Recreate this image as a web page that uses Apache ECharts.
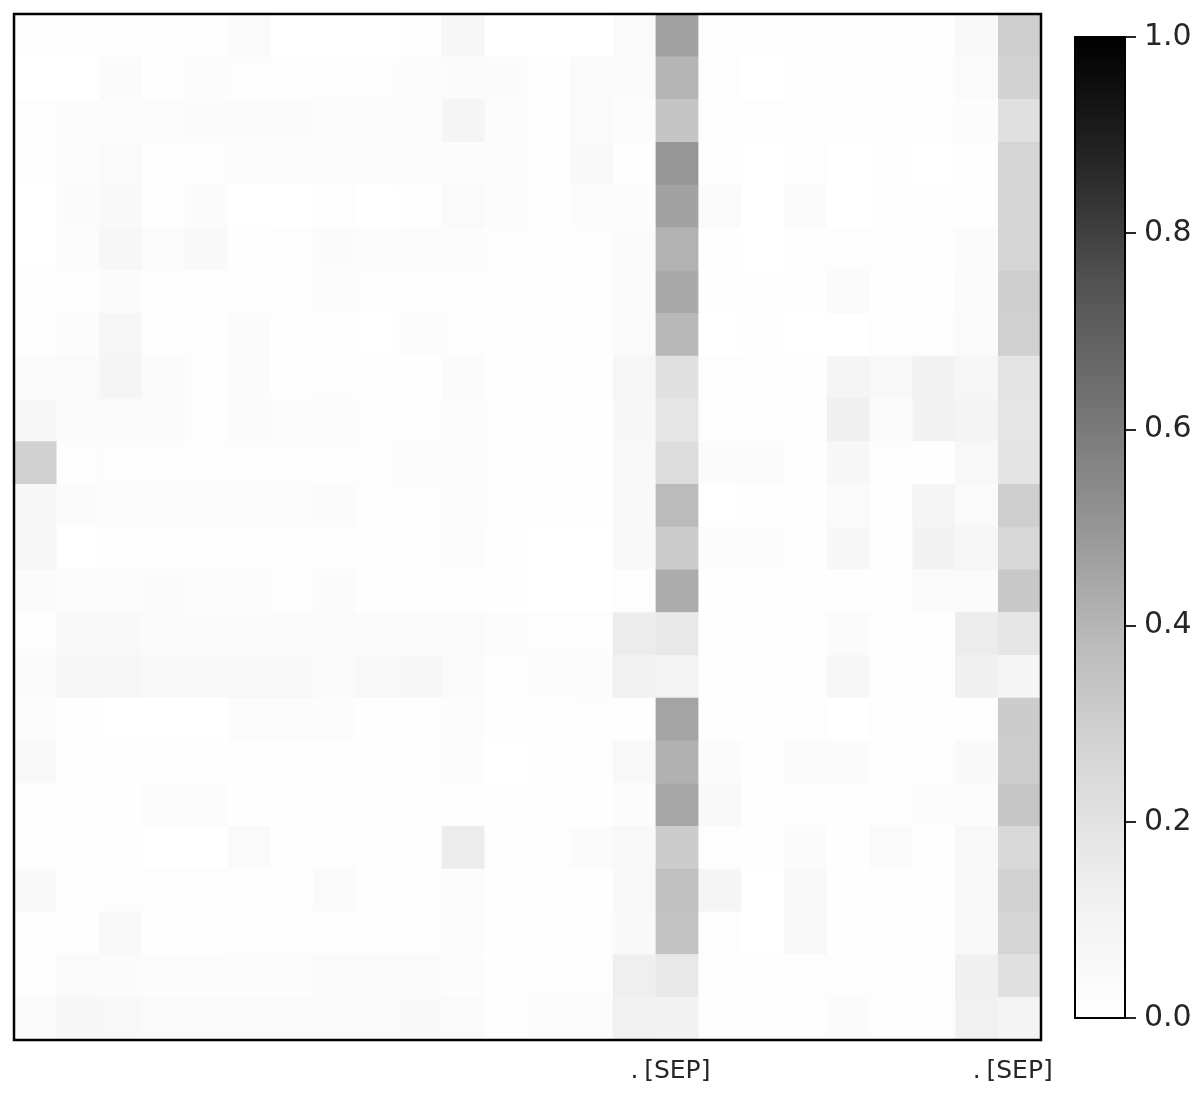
<!DOCTYPE html>
<html>
<head>
<meta charset="utf-8">
<title>attention heatmap</title>
<script src="https://cdn.jsdelivr.net/npm/echarts@6/dist/echarts.min.js"></script>
<style>
  html, body { margin: 0; padding: 0; background: #fff; }
  #chart { width: 1204px; height: 1100px; }
</style>
</head>
<body>
<div id="chart"></div>
<script>
// tokens along x (only the "." and [SEP] ones are labelled)
var xTokens = ['', '', '', '', '', '', '', '', '', '', '', '', '', '', '.', '[SEP]',
  '', '', '', '', '', '', '.', '[SEP]'];
var yTokens = ['r0', 'r1', 'r2', 'r3', 'r4', 'r5', 'r6', 'r7', 'r8', 'r9', 'r10', 'r11',
  'r12', 'r13', 'r14', 'r15', 'r16', 'r17', 'r18', 'r19', 'r20', 'r21', 'r22', 'r23'];

// attention weights, one row per query token (top row first)
var weights = [
  [0.01,0.01,0.01,0.01,0.01,0.04,0,0,0,0.01,0.07,0,0,0,0.04,0.46,0.01,0.01,0.01,0.01,0.01,0.01,0.06,0.30],
  [0,0,0.03,0.01,0.025,0.015,0.015,0.015,0.015,0.025,0.03,0.03,0.01,0.04,0.03,0.40,0.015,0,0.015,0.015,0.015,0.015,0.04,0.28],
  [0.015,0.025,0.025,0.025,0.03,0.03,0.03,0.025,0.025,0.025,0.08,0.025,0.01,0.04,0.025,0.34,0.015,0.015,0.015,0.015,0.015,0.015,0.025,0.21],
  [0.01,0.025,0.04,0.01,0.015,0.025,0.025,0.025,0.025,0.025,0.025,0.025,0.01,0.05,0.01,0.50,0.01,0,0.015,0,0.01,0,0.01,0.27],
  [0,0.03,0.05,0.01,0.03,0,0,0.015,0,0.01,0.04,0.025,0.01,0.025,0.025,0.46,0.04,0,0.03,0,0.01,0.01,0.01,0.27],
  [0,0.025,0.065,0.025,0.05,0.01,0.015,0.03,0.025,0.025,0.025,0.015,0.01,0.015,0.03,0.41,0.01,0,0.015,0.015,0.015,0.015,0.03,0.27],
  [0.015,0.015,0.03,0.015,0.015,0.015,0.015,0.025,0.015,0.015,0.015,0.015,0.01,0.01,0.03,0.44,0.01,0.01,0.01,0.04,0.01,0.01,0.04,0.295],
  [0.015,0.025,0.075,0.015,0.015,0.03,0.01,0.01,0,0.025,0.015,0.01,0.015,0.01,0.04,0.39,0,0.01,0,0,0.015,0.015,0.04,0.29],
  [0.04,0.04,0.08,0.03,0.015,0.03,0.01,0.015,0.01,0.01,0.03,0.01,0.01,0.01,0.075,0.21,0.015,0.015,0.01,0.085,0.06,0.11,0.075,0.19],
  [0.065,0.04,0.04,0.03,0.015,0.03,0.025,0.025,0.015,0.015,0.025,0.015,0.01,0.01,0.065,0.185,0.015,0.015,0.01,0.125,0.03,0.11,0.09,0.185],
  [0.285,0.015,0.015,0.015,0.015,0.015,0.015,0.015,0.015,0.025,0.025,0.015,0.01,0.01,0.05,0.235,0.03,0.03,0.01,0.065,0.015,0.01,0.06,0.19],
  [0.065,0.03,0.025,0.025,0.025,0.025,0.025,0.03,0.015,0.015,0.025,0.015,0.01,0.01,0.05,0.38,0,0.01,0.01,0.04,0.015,0.08,0.04,0.30],
  [0.065,0,0.01,0.015,0.01,0.01,0.01,0.015,0.01,0.01,0.025,0.01,0,0,0.05,0.31,0.025,0.025,0.01,0.065,0.01,0.11,0.075,0.26],
  [0.03,0.025,0.025,0.03,0.025,0.025,0.015,0.03,0.01,0.01,0.01,0.01,0,0,0.015,0.43,0.01,0.01,0.01,0.01,0.01,0.04,0.04,0.325],
  [0.015,0.05,0.05,0.03,0.03,0.03,0.03,0.04,0.04,0.04,0.04,0.025,0.015,0.015,0.145,0.17,0.015,0.015,0.015,0.03,0.015,0.015,0.145,0.18],
  [0.04,0.075,0.075,0.06,0.06,0.06,0.06,0.04,0.06,0.065,0.04,0.015,0.025,0.025,0.115,0.10,0.015,0.015,0.015,0.065,0.015,0.015,0.125,0.085],
  [0.025,0.01,0,0,0,0.025,0.025,0.025,0.01,0.015,0.025,0.01,0.01,0.015,0.01,0.455,0.01,0.01,0.015,0,0.015,0.015,0.015,0.31],
  [0.06,0.01,0.01,0.01,0.01,0.01,0.01,0.01,0.01,0.01,0.025,0,0.01,0.015,0.06,0.415,0.03,0.01,0.03,0.03,0.015,0.015,0.05,0.305],
  [0.015,0.015,0.01,0.025,0.025,0.01,0.01,0.015,0.01,0.01,0.015,0.01,0.01,0.01,0.025,0.45,0.05,0.01,0.015,0.015,0.015,0.025,0.025,0.335],
  [0.015,0.015,0.01,0,0,0.04,0.01,0.015,0.01,0.015,0.145,0.01,0.015,0.03,0.06,0.31,0.015,0.01,0.03,0.01,0.04,0.01,0.06,0.25],
  [0.05,0.01,0.015,0.015,0.015,0.015,0.015,0.04,0.01,0.01,0.025,0.01,0.015,0.01,0.06,0.36,0.085,0,0.05,0.01,0.01,0.01,0.06,0.28],
  [0.015,0.015,0.06,0.01,0.01,0.015,0.015,0.015,0.015,0.015,0.025,0.01,0.01,0.015,0.05,0.35,0.015,0,0.06,0.01,0.01,0.01,0.05,0.27],
  [0.015,0.04,0.03,0.025,0.025,0.025,0.025,0.04,0.04,0.04,0.025,0.01,0.015,0.015,0.13,0.17,0.015,0.015,0.015,0.015,0.015,0.015,0.125,0.21],
  [0.03,0.065,0.06,0.04,0.04,0.04,0.04,0.04,0.04,0.05,0.04,0.01,0.025,0.025,0.115,0.11,0.015,0.015,0.015,0.03,0.015,0.015,0.115,0.09]
];

// colour bar scale
var cbarMin = 0;
var cbarMax = 1;
var cbarStep = 0.2;

// matplotlib "Greys"
var greys = ['#ffffff', '#f0f0f0', '#d9d9d9', '#bdbdbd', '#969696',
  '#737373', '#525252', '#252525', '#000000'];

var cells = [];
for (var r = 0; r < weights.length; r++) {
  for (var c = 0; c < weights[r].length; c++) {
    cells.push([c, r, weights[r][c]]);
  }
}

// gradient for the colour bar, black at top
var barStops = [];
for (var i = greys.length - 1; i >= 0; i--) {
  barStops.push({ offset: 1 - i / (greys.length - 1), color: greys[i] });
}

var chart = echarts.init(document.getElementById('chart'));
var font = 'DejaVu Sans, Liberation Sans, sans-serif';

var option = {
  animation: false,
  backgroundColor: '#ffffff',
  grid: [
    { left: 14, top: 14, width: 1027, height: 1026, show: true, z: 5,
      backgroundColor: 'transparent', borderColor: '#000', borderWidth: 2.5 },
    { left: 1075, top: 37, width: 50, height: 981, show: true, z: 5,
      backgroundColor: 'transparent', borderColor: '#000', borderWidth: 2 }
  ],
  xAxis: [
    {
      type: 'category', gridIndex: 0, data: xTokens, position: 'bottom',
      axisLine: { show: false }, axisTick: { show: false }, splitLine: { show: false },
      axisLabel: { interval: 0, fontSize: 25, color: '#262626', fontFamily: font, margin: 19 }
    },
    {
      type: 'category', gridIndex: 1, data: [''],
      axisLine: { show: false }, axisTick: { show: false }, axisLabel: { show: false }
    }
  ],
  yAxis: [
    {
      type: 'category', gridIndex: 0, data: yTokens, inverse: true,
      axisLine: { show: false }, axisTick: { show: false },
      axisLabel: { show: false }, splitLine: { show: false }
    },
    {
      type: 'value', gridIndex: 1, position: 'right',
      min: cbarMin, max: cbarMax, interval: cbarStep,
      axisLine: { show: false }, splitLine: { show: false },
      axisTick: { show: true, inside: false, length: 11, lineStyle: { color: '#262626', width: 2 } },
      axisLabel: {
        fontSize: 30, color: '#262626', fontFamily: font, margin: 19,
        formatter: function (v) { return v.toFixed(1); }
      }
    }
  ],
  visualMap: {
    show: false, type: 'continuous', seriesIndex: 0,
    min: cbarMin, max: cbarMax, inRange: { color: greys }
  },
  series: [
    {
      type: 'heatmap', xAxisIndex: 0, yAxisIndex: 0, data: cells,
      itemStyle: { borderWidth: 0 }, emphasis: { disabled: true }
    },
    {
      type: 'bar', xAxisIndex: 1, yAxisIndex: 1, data: [cbarMax],
      barWidth: '100%', silent: true,
      itemStyle: {
        color: { type: 'linear', x: 0, y: 0, x2: 0, y2: 1, colorStops: barStops }
      }
    }
  ]
};

chart.setOption(option);
</script>
</body>
</html>
